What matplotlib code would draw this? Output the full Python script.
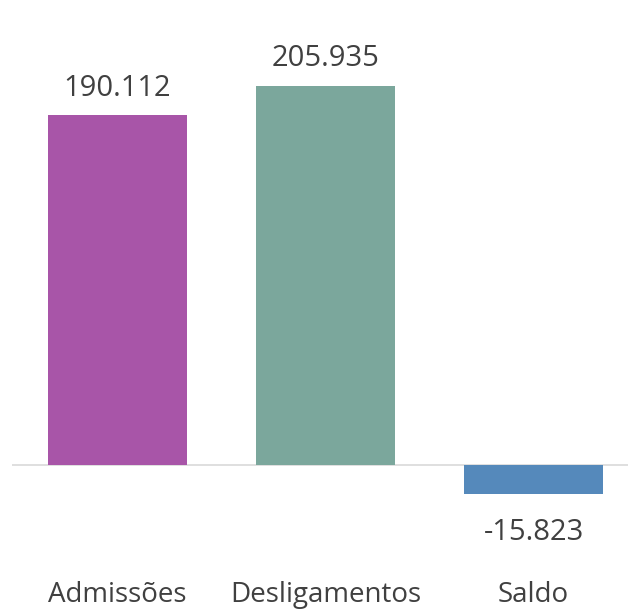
import matplotlib
matplotlib.use("Agg")
import matplotlib.pyplot as plt

categories = ["Admissões", "Desligamentos", "Saldo"]
values = [190112, 205935, -15823]
labels = ["190.112", "205.935", "-15.823"]
colors = ["#A855A8", "#7BA79C", "#5589BB"]

plt.rcParams['font.family'] = ['Open Sans', 'DejaVu Sans']

fig = plt.figure(figsize=(6.28, 6.10), dpi=100)
# axes spans x 12..628 px, y 40..520 px
ax = fig.add_axes([12 / 628, 90 / 610, 616 / 628, 480 / 610])

x = range(len(categories))
ax.bar(x, values, width=0.67, color=colors, zorder=2)
ax.axhline(0, color="#D9D9D9", linewidth=1.2, zorder=1)

ax.set_xlim(-0.507, 2.454)
ax.set_ylim(-29880, 230900)

for i, (v, lab) in enumerate(zip(values, labels)):
    if v >= 0:
        ax.annotate(lab, (i, v), xytext=(0, 9), textcoords="offset points",
                    ha="center", va="bottom", fontsize=21, color="#404040")
    else:
        ax.annotate(lab, (i, v), xytext=(0, -17), textcoords="offset points",
                    ha="center", va="top", fontsize=21, color="#404040")

ax.set_xticks(list(x))
ax.set_xticklabels(categories, fontsize=20, color="#404040")
ax.tick_params(axis="x", length=0, pad=44)
ax.set_yticks([])
for s in ax.spines.values():
    s.set_visible(False)

fig.savefig("out.png", dpi=100)
